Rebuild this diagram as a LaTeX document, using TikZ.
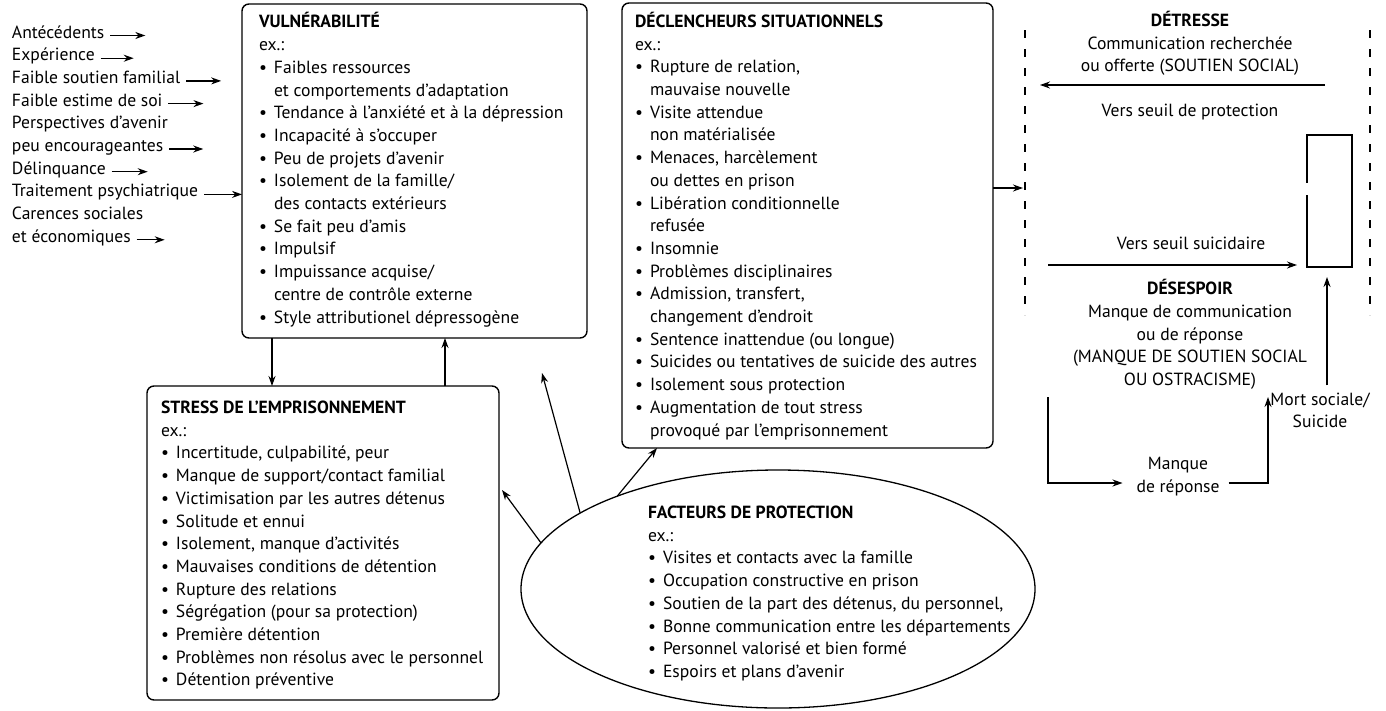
\documentclass[tikz,border=0pt]{standalone}
\usepackage{fontspec}
\setmainfont{PT Sans}
\usetikzlibrary{arrows.meta,shapes.geometric}
\newcommand{\bhead}[1]{\strut\textbf{#1}}
\newcommand{\bline}[1]{\strut #1}
\newcommand{\bitem}[1]{\strut\makebox[15pt][l]{\textbullet}#1}
\newcommand{\bcont}[1]{\strut\hspace*{15pt}#1}
\begin{document}
\begin{tikzpicture}[x=1pt,y=-1pt,
  every node/.style={inner sep=0pt, outer sep=0pt, font=\fontsize{17.6}{22.7}\selectfont},
  box/.style={draw, line width=1.4pt, rounded corners=7pt, anchor=north west},
  txt/.style={anchor=north west, align=left},
  ctr/.style={align=center},
  li/.style={anchor=base west},
  arr/.style={line width=1.2pt, -{Stealth[length=10pt,width=7pt]}},
  ln/.style={line width=1.2pt},
  dl/.style={line width=1.2pt, dash pattern=on 8pt off 11pt},
]
\path[fill=white] (0,0) rectangle (1386,710);

% left list
\node[li] (a1) at (12,38.0) {Antécédents};
\node[li] (a2) at (12,60.7) {Expérience};
\node[li] (a3) at (12,83.4) {Faible soutien familial};
\node[li] (a4) at (12,106.1) {Faible estime de soi};
\node[li] (a5) at (12,128.8) {Perspectives d’avenir};
\node[li] (a6) at (12,151.5) {peu encourageantes};
\node[li] (a7) at (12,174.2) {Délinquance};
\node[li] (a8) at (12,196.9) {Traitement psychiatrique};
\node[li] (a9) at (12,219.6) {Carences sociales};
\node[li] (a10) at (12,242.3) {et économiques};

% boxes
\node[box, minimum width=345, minimum height=334] (vul) at (242,4) {};
\node[box, minimum width=371, minimum height=445] (dec) at (622,3) {};
\node[box, minimum width=352, minimum height=314] (str) at (147,386) {};
\node[draw, ellipse, line width=1.3pt, minimum width=514, minimum height=238] (fac) at (778,589) {};

\node[txt] (vult) at (259,12.1) {%
\bhead{VULNÉRABILITÉ}\\
\bline{ex.:}\\
\bitem{Faibles ressources}\\
\bcont{et comportements d’adaptation}\\
\bitem{Tendance à l’anxiété et à la dépression}\\
\bitem{Incapacité à s’occuper}\\
\bitem{Peu de projets d’avenir}\\
\bitem{Isolement de la famille/}\\
\bcont{des contacts extérieurs}\\
\bitem{Se fait peu d’amis}\\
\bitem{Impulsif}\\
\bitem{Impuissance acquise/}\\
\bcont{centre de contrôle externe}\\
\bitem{Style attributionel dépressogène}};

\node[txt] (dect) at (635,11.6) {%
\bhead{DÉCLENCHEURS SITUATIONNELS}\\
\bline{ex.:}\\
\bitem{Rupture de relation,}\\
\bcont{mauvaise nouvelle}\\
\bitem{Visite attendue}\\
\bcont{non matérialisée}\\
\bitem{Menaces, harcèlement}\\
\bcont{ou dettes en prison}\\
\bitem{Libération conditionnelle}\\
\bcont{refusée}\\
\bitem{Insomnie}\\
\bitem{Problèmes disciplinaires}\\
\bitem{Admission, transfert,}\\
\bcont{changement d’endroit}\\
\bitem{Sentence inattendue (ou longue)}\\
\bitem{Suicides ou tentatives de suicide des autres}\\
\bitem{Isolement sous protection}\\
\bitem{Augmentation de tout stress}\\
\bcont{provoqué par l’emprisonnement}};

\node[txt] (strt) at (161,397.6) {%
\bhead{STRESS DE L’EMPRISONNEMENT}\\
\bline{ex.:}\\
\bitem{Incertitude, culpabilité, peur}\\
\bitem{Manque de support/contact familial}\\
\bitem{Victimisation par les autres détenus}\\
\bitem{Solitude et ennui}\\
\bitem{Isolement, manque d’activités}\\
\bitem{Mauvaises conditions de détention}\\
\bitem{Rupture des relations}\\
\bitem{Ségrégation (pour sa protection)}\\
\bitem{Première détention}\\
\bitem{Problèmes non résolus avec le personnel}\\
\bitem{Détention préventive}};

\node[txt] (fact) at (648,502.6) {%
\bhead{FACTEURS DE PROTECTION}\\
\bline{ex.:}\\
\bitem{Visites et contacts avec la famille}\\
\bitem{Occupation constructive en prison}\\
\bitem{Soutien de la part des détenus, du personnel,}\\
\bitem{Bonne communication entre les départements}\\
\bitem{Personnel valorisé et bien formé}\\
\bitem{Espoirs et plans d’avenir}};

% left arrows
\draw[arr] ([xshift=6pt]a1.mid east) -- ++(35,0);
\draw[arr] ([xshift=6pt]a2.mid east) -- ++(33,0);
\draw[arr] ([xshift=6pt]a3.mid east) -- ++(35,0);
\draw[arr] ([xshift=6pt]a4.mid east) -- ++(35,0);
\draw[arr] ([xshift=6pt]a6.mid east) -- ++(34,0);
\draw[arr] ([xshift=6pt]a7.mid east) -- ++(36,0);
\draw[arr] ([xshift=6pt]a8.mid east) -- (a8.mid east -| vul.west);
\draw[arr] ([xshift=6pt]a10.mid east) -- ++(28,0);

% vul <-> stress
\draw[arr] ([xshift=30pt]vul.south west) -- ([xshift=125pt]str.north west);
\draw[arr] ([xshift=298pt]str.north west) -- ([xshift=203pt]vul.south west);

% protection arrows
\coordinate (gapend) at (542,373);
\draw[arr] (fac.169.8) -- ([xshift=3pt,yshift=53pt]str.east);
\draw[arr] (fac.159.8) -- (gapend);
\draw[arr] (fac.150.1) -- ([xshift=35pt]dec.south west);

% right part
\coordinate (dlAt) at (1025,30);
\coordinate (dlAb) at (1025,315);
\coordinate (dlBt) at (1370,30);
\coordinate (dlBb) at (1370,315);
\draw[dl] (dlAt) -- (dlAb);
\draw[dl] (dlBt) -- (dlBb);

\coordinate (dtail) at ([yshift=37.5pt]dec.east);
\draw[arr] (dtail) -- ([xshift=-2pt]dtail -| dlAt);

\node[ctr] (det) at (1190,44.5) {\bhead{DÉTRESSE}\\\bline{Communication recherchée}\\\bline{ou offerte (SOUTIEN SOCIAL)}};
\coordinate (p1) at (1325,85);
\coordinate (p2) at (1040,85);
\draw[arr] (p1) -- (p2);
\node[ctr] (vsp) at (1190,112) {Vers seuil de protection};

\node[minimum width=45, minimum height=132] (thr) at (1329.5,201) {};
\draw[ln] ([yshift=6pt]thr.west) -- (thr.south west) -- (thr.south east) -- (thr.north east) -- (thr.north west) -- ([yshift=18pt]thr.west);

\node[ctr] (vss) at (1191,243) {Vers seuil suicidaire};
\coordinate (s1) at (1048,265);
\draw[arr] (s1) -- ([xshift=-10pt,yshift=2pt]thr.south west);

\node[ctr] (des) at (1190,335.5) {\bhead{DÉSESPOIR}\\\bline{Manque de communication}\\\bline{ou de réponse}\\\bline{(MANQUE DE SOUTIEN SOCIAL}\\\bline{OU OSTRACISME)}};

\node[ctr] (mort) at (1320,412) {\bline{Mort sociale/}\\\bline{Suicide}};
\draw[arr] ([xshift=7pt,yshift=4pt]mort.north) -- ([xshift=-2.5pt,yshift=-10pt]thr.south);

\node[ctr] (mdr) at (1178,476.5) {\bline{Manque}\\\bline{de réponse}};
\coordinate (c1) at (1048,397);
\coordinate (mtip) at (1268,397);
\draw[arr] (c1) |- ([xshift=-14pt,yshift=-6.5pt]mdr.west);
\draw[arr] ([xshift=9pt,yshift=-6.5pt]mdr.east) -| (mtip);
\end{tikzpicture}
\end{document}
